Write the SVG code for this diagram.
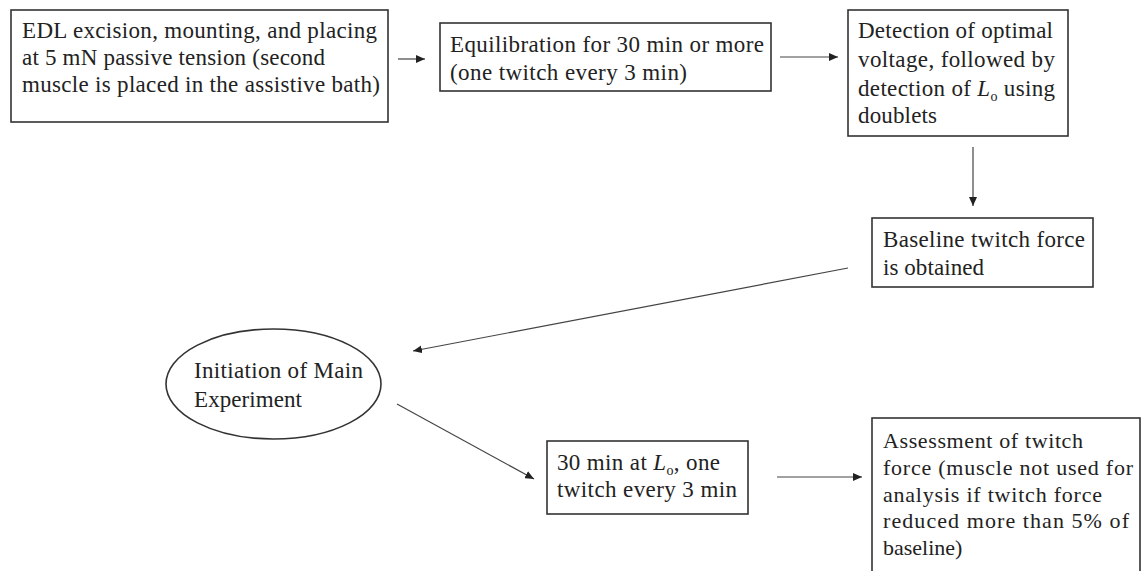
<svg xmlns="http://www.w3.org/2000/svg" width="1141" height="571" viewBox="0 0 1141 571">
<style>
.box{fill:#fff;stroke:#333;stroke-width:1.6}
.t{font-family:"Liberation Serif","Times New Roman",serif;font-size:23px;fill:#222}
.s{font-size:22px}
.c{stroke:#444;stroke-width:1.2;fill:none}
</style>
<defs>
<marker id="ah" markerUnits="userSpaceOnUse" markerWidth="10" markerHeight="8" refX="9" refY="4" orient="auto">
<path d="M0,0 L9,4 L0,8 Z" fill="#222"/>
</marker>
</defs>
<rect width="1141" height="571" fill="#fff"/>
<g id="n1">
<rect class="box" x="11" y="10" width="377" height="112"/>
<text class="t" x="22" y="38" textLength="355" lengthAdjust="spacing">EDL excision, mounting, and placing</text>
<text class="t" x="22" y="65" textLength="303" lengthAdjust="spacing">at 5 mN passive tension (second</text>
<text class="t" x="22" y="92" textLength="358" lengthAdjust="spacing">muscle is placed in the assistive bath)</text>
</g>
<g id="n2">
<rect class="box" x="440" y="23" width="331" height="68"/>
<text class="t" x="450" y="52" textLength="314" lengthAdjust="spacing">Equilibration for 30 min or more</text>
<text class="t" x="450" y="80" textLength="237" lengthAdjust="spacing">(one twitch every 3 min)</text>
</g>
<g id="n3">
<rect class="box" x="848" y="10" width="220" height="126"/>
<text class="t" x="858" y="38" textLength="195" lengthAdjust="spacing">Detection of optimal</text>
<text class="t" x="858" y="67" textLength="197" lengthAdjust="spacing">voltage, followed by</text>
<text class="t" x="858" y="96" textLength="197" lengthAdjust="spacing">detection of <tspan font-style="italic">L</tspan><tspan font-size="14" dy="5">o</tspan><tspan dy="-5"> using</tspan></text>
<text class="t" x="858" y="123" textLength="79" lengthAdjust="spacing">doublets</text>
</g>
<g id="n4">
<rect class="box" x="872" y="218" width="221" height="69"/>
<text class="t" x="883" y="247" textLength="202" lengthAdjust="spacing">Baseline twitch force</text>
<text class="t" x="883" y="275" textLength="101" lengthAdjust="spacing">is obtained</text>
</g>
<g id="n5">
<ellipse class="box" cx="273.5" cy="384" rx="107.5" ry="55"/>
<text class="t" x="194" y="378" textLength="169" lengthAdjust="spacing">Initiation of Main</text>
<text class="t" x="194" y="407" textLength="108" lengthAdjust="spacing">Experiment</text>
</g>
<g id="n6">
<rect class="box" x="547" y="441" width="201" height="73"/>
<text class="t" x="557" y="470" textLength="163" lengthAdjust="spacing">30 min at <tspan font-style="italic">L</tspan><tspan font-size="14" dy="5">o</tspan><tspan dy="-5">, one</tspan></text>
<text class="t" x="557" y="497" textLength="180" lengthAdjust="spacing">twitch every 3 min</text>
</g>
<g id="n7">
<rect class="box" x="872" y="418" width="268" height="170"/>
<text class="t s" x="883" y="448" textLength="200" lengthAdjust="spacing">Assessment of twitch</text>
<text class="t s" x="883" y="475" textLength="250" lengthAdjust="spacing">force (muscle not used for</text>
<text class="t s" x="883" y="502" textLength="219" lengthAdjust="spacing">analysis if twitch force</text>
<text class="t s" x="883" y="528" textLength="246" lengthAdjust="spacing">reduced more than 5% of</text>
<text class="t s" x="883" y="555">baseline)</text>
</g>
<g id="connectors">
<line class="c" x1="398" y1="59" x2="425" y2="59" marker-end="url(#ah)"/>
<line class="c" x1="780" y1="57" x2="838" y2="57" marker-end="url(#ah)"/>
<line class="c" x1="973" y1="147" x2="973" y2="206" marker-end="url(#ah)"/>
<line class="c" x1="848" y1="268" x2="413" y2="351" marker-end="url(#ah)"/>
<line class="c" x1="397" y1="404" x2="534" y2="479" marker-end="url(#ah)"/>
<line class="c" x1="777" y1="477" x2="862" y2="477" marker-end="url(#ah)"/>
</g>
</svg>
